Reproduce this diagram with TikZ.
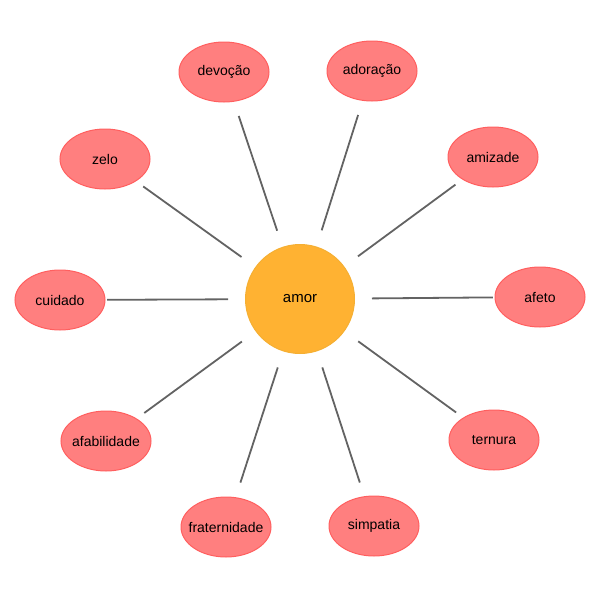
\documentclass[tikz,border=0pt]{standalone}
\usepackage{fontspec}
\setmainfont{Liberation Sans}
\usetikzlibrary{shapes.geometric,calc}
\definecolor{leaffill}{HTML}{FF7F7F}
\definecolor{leafdraw}{HTML}{FF5F5F}
\definecolor{hubfill}{HTML}{FFB232}
\definecolor{hubdraw}{HTML}{F5AF33}
\definecolor{linkcol}{HTML}{636363}
\tikzset{
  leaf/.style={ellipse, draw=leafdraw, fill=leaffill, line width=1pt, minimum width=90pt, minimum height=60pt, inner sep=0pt, font=\fontsize{14}{16}\selectfont,
    execute at begin node={\hbox to 0pt\bgroup\hss}, execute at end node={\hss\egroup}},
  hub/.style={circle, draw=hubdraw, fill=hubfill, line width=1pt, minimum size=109pt, inner sep=0pt, font=\fontsize{15}{17}\selectfont},
  link/.style={draw=linkcol, line width=1.8pt}
}
\begin{document}
\begin{tikzpicture}[x=1pt,y=-1pt]
\useasboundingbox (0,0) rectangle (600,600);
\node[hub] (c) at (300,299) {amor};
\node[leaf] (n1) at (224,72) {devoção};
\node[leaf] (n2) at (372,71) {adoração};
\node[leaf] (n3) at (493,157) {amizade};
\node[leaf] (n4) at (540,297) {afeto};
\node[leaf] (n5) at (494,440) {ternura};
\node[leaf] (n6) at (374,526) {simpatia};
\node[leaf] (n7) at (226,527) {fraternidade};
\node[leaf] (n8) at (106,441) {afabilidade};
\node[leaf] (n9) at (60,300) {cuidado};
\node[leaf] (n10) at (105,159) {zelo};
\foreach \n in {n1,n2,n3,n4,n5,n6,n7,n8,n9,n10}{
  \draw[link] ($(c.center)!72pt!(\n.center)$) -- ($(c.center)!193pt!(\n.center)$);
}
\end{tikzpicture}
\end{document}
